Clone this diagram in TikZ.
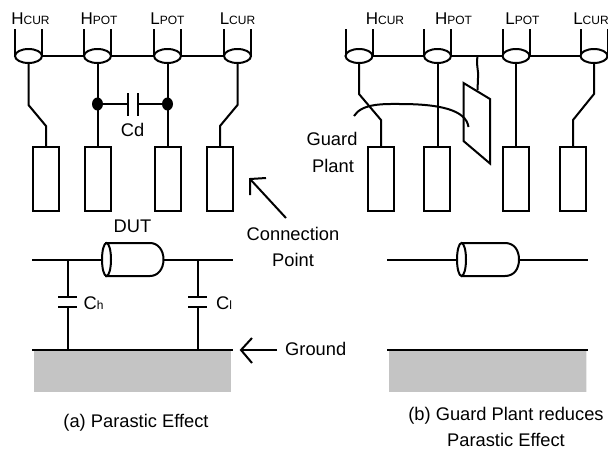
\documentclass[tikz,border=0pt]{standalone}
\usepackage{fontspec}
\setmainfont{Liberation Sans}
\usetikzlibrary{patterns.meta,arrows.meta,shapes.geometric}
\newcommand{\pinlabel}[2]{{\fontsize{17}{17}\selectfont #1\fontsize{12}{12}\selectfont #2}}
\tikzset{
 x=1pt,y=-1pt,
 wire/.style={line width=2pt,line join=miter},
 thin wire/.style={line width=2pt},
 body/.style={line width=2pt,fill=white},
 ring/.style={draw,line width=2pt,fill=white,ellipse,inner sep=0pt,minimum width=27pt,minimum height=14pt},
 pad/.style={draw,line width=2pt,fill=white,inner sep=0pt,minimum width=26pt,minimum height=64pt},
 dot/.style={fill=black,ellipse,inner sep=0pt,minimum width=11pt,minimum height=13pt},
 txt/.style={font=\fontsize{18.3}{20}\selectfont,align=center,inner sep=0pt},
 pin/.style={inner sep=0pt,anchor=base},
 earth/.style={pattern={Dots[distance=2pt,radius=0.72pt]},pattern color=black},
 openarrow/.style={line width=2pt},
}
\begin{document}
\begin{tikzpicture}
\useasboundingbox (0,0) rectangle (608,450);
\fill[white] (0,0) rectangle (608,450);

% ---------- left panel ----------
\draw[wire] (28,56) -- (237,56);
\foreach \n/\x in {la/28,lb/97,lc/167,ld/237}{
  \draw[wire] (\x-13,29) -- (\x-13,56) (\x+14,29) -- (\x+14,56);
  \node[ring] (\n) at (\x+.5,56) {};
}
\node[pad] (pa) at (46,179) {};
\node[pad] (pb) at (97.5,179) {};
\node[pad] (pc) at (167.5,179) {};
\node[pad] (pd) at (220,179) {};
\node[pin] (t1) at (30.5,24.5) {\pinlabel{H}{CUR}};
\node[pin] (t2) at (99,24.5) {\pinlabel{H}{POT}};
\node[pin] (t3) at (167.5,24.5) {\pinlabel{L}{POT}};
\node[pin] (t4) at (237.5,24.5) {\pinlabel{L}{CUR}};
\draw[wire] (la.south) -- (28.5,105) -- (46,126) -- (pa.north);
\draw[wire] (ld.south) -- (237.5,105) -- (220,126) -- (pd.north);
\draw[wire] (lb.south) -- (pb.north);
\draw[wire] (lc.south) -- (pc.north);
\node[dot] (d1) at (97.5,104) {};
\node[dot] (d2) at (167.5,104) {};
\coordinate (c1) at (128,104);
\coordinate (c2) at (138,104);
\draw[wire] (d1) -- (c1) (c2) -- (d2);
\draw[wire] (128,93) -- (128,116) (138,93) -- (138,116);
\node[txt] (cd) at (132.5,130) {Cd};

% DUT left
\draw[wire] (32,259.5) -- (233,259.5);
\draw[body] (106,243) -- (150,243) .. controls (158,243) and (163.5,250) .. (163.5,259.5) .. controls (163.5,269) and (158,276) .. (150,276) -- (106,276) -- cycle;
\draw[body] (106.5,259.5) ellipse [x radius=4.5,y radius=16.5];
\node[txt] (dut) at (132.5,226) {DUT};
\coordinate (ch1) at (68,259.5); \coordinate (ch2) at (68,350);
\coordinate (cl1) at (198,259.5); \coordinate (cl2) at (198,350);
\draw[thin wire] (ch1) -- (68,297) (68,307) -- (ch2);
\draw[thin wire] (cl1) -- (198,297) (198,307) -- (cl2);
\draw[wire] (58,297) -- (77,297) (58,307) -- (77,307);
\draw[wire] (188,297) -- (207,297) (188,307) -- (207,307);
\node[pin,anchor=base west] (ch) at (83.5,309) {\fontsize{18.3}{18}\selectfont C\fontsize{12}{12}\selectfont h};
\node[pin,anchor=base west] (cl) at (216,309) {\fontsize{18.3}{18}\selectfont C\fontsize{12}{12}\selectfont l};
% ground left
\path[earth] (34,351) rectangle (231,391);
\draw[wire] (32,350) -- (233,350);

% ---------- right panel ----------
\draw[wire] (359,56) -- (594,56);
\foreach \n/\x in {ra/359,rb/437.5,rc/516,rd/594}{
  \draw[wire] (\x-13.5,29) -- (\x-13.5,56) (\x+13.5,29) -- (\x+13.5,56);
  \node[ring] (\n) at (\x,56) {};
}
\node[pad] (qa) at (381,179) {};
\node[pad] (qb) at (437,179) {};
\node[pad] (qc) at (516,179) {};
\node[pad] (qd) at (573,179) {};
\node[pin] (u1) at (385,24.5) {\pinlabel{H}{CUR}};
\node[pin] (u2) at (453.5,24.5) {\pinlabel{H}{POT}};
\node[pin] (u3) at (522.5,24.5) {\pinlabel{L}{POT}};
\node[pin] (u4) at (591,24.5) {\pinlabel{L}{CUR}};
\draw[wire] (ra.south) -- (359,94) -- (381,120) -- (qa.north);
\draw[wire] (rd.south) -- (594,94) -- (573,120) -- (qd.north);
\draw[wire] (rb.south) -- (rb.south |- qb.north);
\draw[wire] (rc.south) -- (qc.north);
% guard plate
\coordinate (gt) at (477.5,56);
\coordinate (gb) at (477.5,90);
\draw[thin wire] (gt) .. controls (476,66) and (479,72) .. (478,78) .. controls (477.5,83) and (478,86) .. (gb);
\draw[wire,fill=white] (463.5,83) -- (490,99) -- (490,163.5) -- (463.5,141) -- cycle;
\draw[wire] (354,116) .. controls (362,103) and (385,104) .. (400,104) .. controls (440,104) and (466,110) .. (468.5,127);
\node[txt,anchor=base] (gp1) at (332,145) {Guard};
\node[txt,anchor=base] (gp2) at (333,172) {Plant};
% DUT right
\draw[wire] (387,259.5) -- (588,259.5);
\draw[body] (462,243) -- (505,243) .. controls (514,243) and (519,250) .. (519,259.5) .. controls (519,269) and (514,276) .. (505,276) -- (462,276) -- cycle;
\draw[body] (461.5,259.5) ellipse [x radius=4.5,y radius=16.5];
% ground right
\path[earth] (389,351) rectangle (586,391);
\draw[wire] (387,350) -- (588,350);

% ---------- shared annotations ----------
\node[txt,anchor=base] (conn1) at (293,240) {Connection};
\node[txt,anchor=base] (conn2) at (293,266.5) {Point};
\coordinate (cp) at (250,179);
\draw[openarrow] (286,218) -- (cp);
\draw[openarrow] (266,178) -- (cp) -- (250,195);
\node[txt,anchor=west] (gnd) at (285,349) {Ground};
\coordinate (gtip) at (241,350);
\draw[openarrow] (277,350) -- (gtip);
\draw[openarrow] (252,338) -- (gtip) -- (252,363);
\node[txt,anchor=base] (capa) at (136,427) {(a) Parastic Effect};
\node[txt,anchor=base] (capb1) at (506,420) {(b) Guard Plant reduces};
\node[txt,anchor=base] (capb2) at (506,446) {Parastic Effect};
\end{tikzpicture}
\end{document}
